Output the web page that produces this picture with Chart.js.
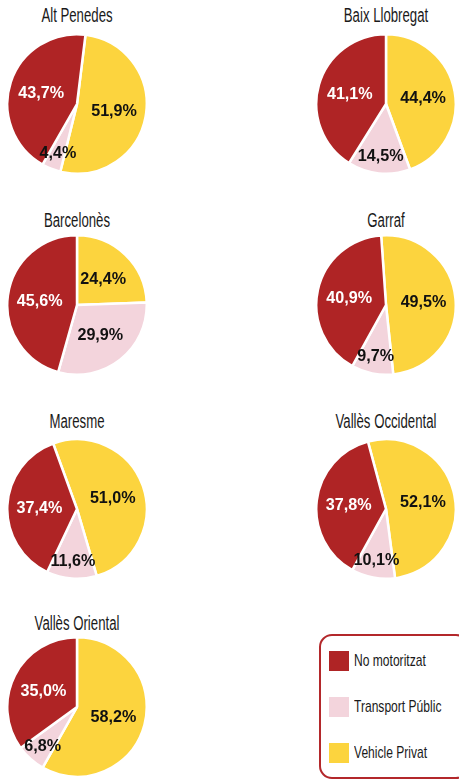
<!DOCTYPE html>
<html>
<head>
  <meta charset="utf-8">
  <title>Repartiment modal per comarques</title>
  <script src="https://cdn.jsdelivr.net/npm/chart.js"></script>
  <style>
    body { margin: 0; background: #fff; }
    #page { position: relative; width: 459px; height: 783px; overflow: hidden; font-family: "Liberation Sans", Arial, sans-serif; }
    .pie { position: absolute; width: 142px; height: 142px; }
    .title {
      position: absolute; width: 200px; margin-left: -100px; text-align: center;
      font-size: 20px; line-height: 20px; color: #1a1a1a; transform: scaleX(0.66); white-space: nowrap;
    }
    #legend {
      position: absolute; left: 319px; top: 634px; width: 150px; height: 145px;
      border: 2.5px solid #b3282b; border-radius: 13px; box-sizing: border-box;
      font-size: 17px; color: #1a1a1a;
    }
    .item { position: absolute; left: 8px; height: 20px; white-space: nowrap; }
    .item .sw { position: absolute; left: 0; top: 0; width: 20px; height: 20px; }
    .item .tx { position: absolute; left: 25px; top: 0; line-height: 20px; transform: scaleX(0.71); transform-origin: left center; }
  </style>
</head>
<body>
  <div id="page">
    <div id="legend"></div>
  </div>
  <script>
    const comarques = ["Alt Penedes", "Baix Llobregat", "Barcelonès", "Garraf", "Maresme", "Vallès Occidental", "Vallès Oriental"];
    const modes = ["Vehicle Privat", "Transport Públic", "No motoritzat"];
    const vehiclePrivat = [51.9, 44.4, 24.4, 49.5, 51.0, 52.1, 58.2];
    const transportPublic = [4.4, 14.5, 29.9, 9.7, 11.6, 10.1, 6.8];
    const noMotoritzat = [43.7, 41.1, 45.6, 40.9, 37.4, 37.8, 35.0];

    const colors = ["#fcd43e", "#f3d4dc", "#af2425"];
    const rotations = [7, 0, 0, -4, -20, -15, 0];
    // pie centres and title centres on the page
    const centres = [[76.5, 104], [385.5, 104], [76.5, 305], [385.5, 305], [76.5, 509], [385.5, 509], [76.5, 707]];
    const titleY = [15, 220, 421, 623];

    // percent labels inside the slices
    const pctLabels = {
      id: "pctLabels",
      afterDatasetsDraw(chart) {
        const ctx = chart.ctx;
        const values = chart.data.datasets[0].data;
        chart.getDatasetMeta(0).data.forEach((arc, i) => {
          const p = arc.getProps(["x", "y", "startAngle", "endAngle", "outerRadius"], true);
          const mid = (p.startAngle + p.endAngle) / 2;
          const f = values[i] < 20 ? 0.74 : 0.54;
          const x = p.x + Math.cos(mid) * p.outerRadius * f;
          const y = p.y + Math.sin(mid) * p.outerRadius * f;
          ctx.save();
          ctx.translate(x, y);
          ctx.scale(0.95, 1);
          ctx.font = "bold 17px 'Liberation Sans', Arial, sans-serif";
          ctx.textAlign = "center";
          ctx.textBaseline = "middle";
          ctx.fillStyle = i === 2 ? "#ffffff" : "#111111";
          ctx.fillText(values[i].toFixed(1).replace(".", ",") + "%", 0, 1);
          ctx.restore();
        });
      }
    };

    const page = document.getElementById("page");
    comarques.forEach((name, k) => {
      const [cx, cy] = centres[k];
      const title = document.createElement("div");
      title.className = "title";
      title.textContent = name;
      title.style.left = cx + "px";
      title.style.top = (titleY[Math.floor(k / 2)] - 10) + "px";
      page.appendChild(title);

      const wrap = document.createElement("div");
      wrap.className = "pie";
      wrap.style.left = (cx - 71) + "px";
      wrap.style.top = (cy - 71) + "px";
      const canvas = document.createElement("canvas");
      canvas.width = 142;
      canvas.height = 142;
      wrap.appendChild(canvas);
      page.appendChild(wrap);

      new Chart(canvas, {
        type: "pie",
        data: {
          labels: modes,
          datasets: [{
            data: [vehiclePrivat[k], transportPublic[k], noMotoritzat[k]],
            backgroundColor: colors,
            borderColor: "#ffffff",
            borderWidth: 2.5
          }]
        },
        options: {
          responsive: false,
          animation: false,
          rotation: rotations[k],
          layout: { padding: 0 },
          plugins: {
            legend: { display: false },
            tooltip: { enabled: false }
          }
        },
        plugins: [pctLabels]
      });
    });

    // legend box
    const legendOrder = [2, 1, 0];
    const legend = document.getElementById("legend");
    legendOrder.forEach((i, n) => {
      const item = document.createElement("div");
      item.className = "item";
      item.style.top = (15 + n * 46) + "px";
      item.innerHTML = '<span class="sw" style="background:' + colors[i] + '"></span><span class="tx">' + modes[i] + '</span>';
      legend.appendChild(item);
    });
  </script>
</body>
</html>
